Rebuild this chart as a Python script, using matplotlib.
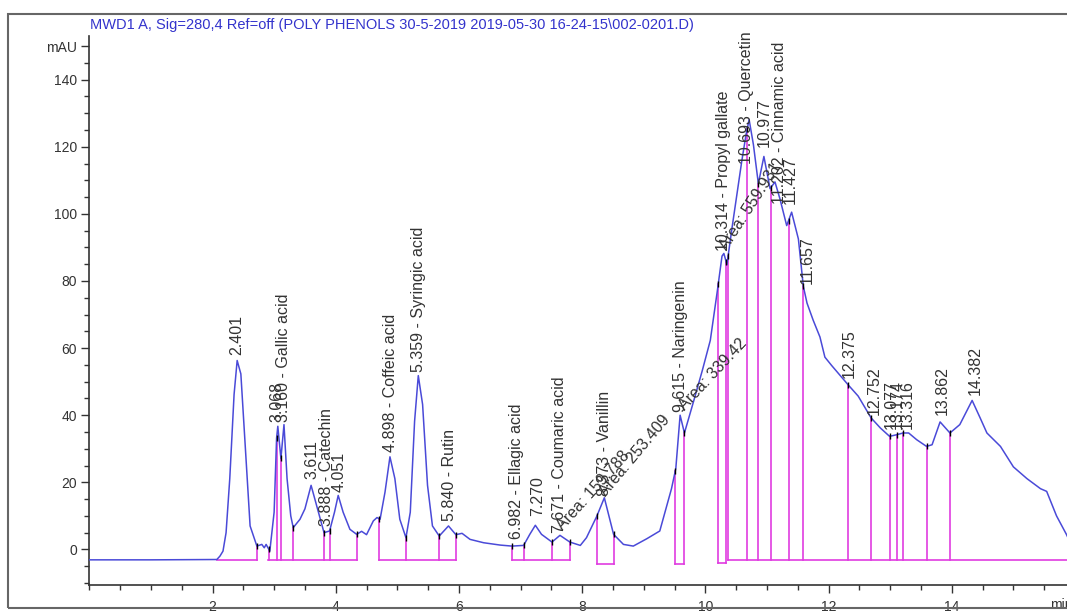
import numpy as np
import matplotlib.pyplot as plt
from matplotlib.patches import Rectangle
from matplotlib.ticker import MultipleLocator

plt.rcParams['font.family'] = ['Liberation Sans', 'DejaVu Sans']

# chromatogram trace (time in min, signal in mAU)
time_min = [0.0, 1.0, 2.07, 2.12, 2.17, 2.22, 2.28, 2.35, 2.40, 2.46, 2.53, 2.61, 2.72,
            2.80, 2.84, 2.87, 2.93, 3.00, 3.04, 3.06, 3.11, 3.16, 3.21, 3.27, 3.31, 3.42,
            3.50, 3.60, 3.69, 3.81, 3.90, 3.98, 4.04, 4.12, 4.23, 4.34, 4.42, 4.50, 4.61,
            4.67, 4.72, 4.80, 4.88, 4.96, 5.04, 5.14, 5.21, 5.28, 5.34, 5.41, 5.49, 5.57,
            5.68, 5.83, 5.95, 6.05, 6.18, 6.40, 6.67, 6.86, 7.05, 7.15, 7.24, 7.34, 7.51,
            7.64, 7.80, 7.97, 8.07, 8.24, 8.36, 8.51, 8.67, 8.83, 9.05, 9.26, 9.45, 9.52,
            9.59, 9.66, 9.81, 9.95, 10.08, 10.19, 10.27, 10.30, 10.35, 10.43, 10.51, 10.59,
            10.66, 10.71, 10.78, 10.86, 10.95, 11.05, 11.13, 11.21, 11.32, 11.40, 11.51,
            11.59, 11.65, 11.75, 11.86, 11.94, 12.05, 12.19, 12.32, 12.48, 12.69, 12.84,
            12.99, 13.11, 13.21, 13.30, 13.43, 13.59, 13.68, 13.81, 13.97, 14.13, 14.33,
            14.46, 14.57, 14.79, 15.00, 15.22, 15.44, 15.54, 15.70, 15.86, 15.95]
signal_mau = [-3.1, -3.1, -3.0, -2.0, -0.5, 5.0, 21.1, 46.2, 56.3, 52.3, 31.2, 7.0, 1.0,
              1.5, 0.5, 1.5, -0.5, 11.1, 33.2, 36.7, 27.1, 37.2, 21.1, 10.0, 6.5, 9.0,
              12.1, 19.1, 13.1, 5.0, 5.5, 11.1, 16.1, 11.1, 6.0, 4.5, 5.4, 4.4, 8.5,
              9.5, 9.0, 17.1, 27.6, 21.1, 9.0, 3.5, 11.1, 38.2, 51.8, 43.2, 19.1, 7.0,
              4.0, 7.0, 4.4, 4.8, 3.0, 2.0, 1.3, 1.0, 1.2, 4.5, 7.2, 4.5, 2.2,
              4.2, 2.2, 1.2, 3.5, 10.0, 15.4, 4.5, 1.5, 1.0, 3.2, 5.5, 18.1, 24.1,
              40.0, 34.7, 44.2, 53.3, 62.3, 76.5, 87.4, 88.2, 84.9, 95.5, 105.5, 115.6,
              123.6, 128.1, 120.6, 109.0, 117.1, 107.5, 109.5, 104.5, 96.5, 100.5, 92.5,
              78.4, 73.4, 68.3, 63.3, 57.3, 54.8, 51.8, 49.0, 45.7, 39.2, 36.2,
              33.7, 34.2, 34.7, 34.7, 32.7, 30.7, 31.2, 38.0, 34.7, 37.2, 44.4,
              39.2, 34.7, 30.7, 24.6, 21.1, 18.1, 17.3, 10.0, 4.5, 1.0]

# integration baselines (start, end, level in mAU)
base_start = [2.07, 2.90, 4.70, 6.86, 8.24, 9.51, 10.21, 10.36]
base_end = [2.72, 4.34, 5.95, 7.81, 8.51, 9.66, 10.34, 16.2]
base_level = [-3.0, -3.0, -3.0, -3.0, -4.3, -4.3, -4.0, -3.0]

# peak boundary drop lines
drop_time = [2.72, 2.91, 3.04, 3.11, 3.31, 3.81, 3.90, 4.34, 4.70, 5.14, 5.68, 5.95,
             6.86, 7.05, 7.51, 7.81, 8.24, 8.51, 9.51, 9.66, 10.21, 10.34, 10.37,
             10.68, 10.86, 11.06, 11.35, 11.59, 12.32, 12.69, 12.99, 13.11, 13.20,
             13.59, 13.97]

# peak labels
peak_label = ["2.401", "3.068", "3.160 - Gallic acid", "3.611", "3.888 - Catechin", "4.051",
              "4.898 - Coffeic acid", "5.359 - Syringic acid", "5.840 - Rutin",
              "6.982 - Ellagic acid", "7.270", "7.671 - Coumaric acid", "8.373 - Vanillin",
              "9.615 - Naringenin", "10.314 - Propyl gallate", "10.693 - Quercetin",
              "10.977", "11.202 - Cinnamic acid", "11.427", "11.657", "12.375", "12.752",
              "13.077", "13.174", "13.316", "13.862", "14.382"]
label_time = [2.40, 3.04, 3.16, 3.61, 3.85, 4.06, 4.89, 5.35, 5.84, 6.94, 7.27, 7.64, 8.37,
              9.59, 10.29, 10.67, 10.95, 11.20, 11.38, 11.65, 12.34, 12.74, 13.01, 13.12,
              13.27, 13.84, 14.38]
label_height = [58, 38, 38, 21, 7, 17, 29, 53, 8.5, 3, 10, 5, 16, 41, 89, 115, 120, 103,
                103, 79, 51, 40, 36, 36, 36, 40, 46]

area_text = ["Area: 159.788", "Area: 253.409", "Area: 339.42", "Area: 559.931"]
area_time = [7.72, 8.43, 9.70, 10.40]
area_height = [5.0, 15.1, 40.7, 88.4]
area_angle = [48, 50, 47, 57]

title = r"MWD1 A, Sig=280,4 Ref=off (POLY PHENOLS 30-5-2019 2019-05-30 16-24-15\002-0201.D)"

trace_color = "#4a4ad8"
base_color = "#e03ce0"
text_color = "#333333"

fig = plt.figure(figsize=(10.67, 6.16), dpi=100)
ax = fig.add_axes([0.0837, 0.0503, 0.9163, 0.8913])

# baselines and drop lines
for s, e, lv in zip(base_start, base_end, base_level):
    ax.plot([s, e], [lv, lv], color=base_color, lw=1.2, zorder=2)
drop_top = np.interp(drop_time, time_min, signal_mau)
for t, top in zip(drop_time, drop_top):
    lv = [l for s, e, l in zip(base_start, base_end, base_level) if s - 0.005 <= t <= e + 0.005][0]
    ax.plot([t, t], [lv, top], color=base_color, lw=1.2, zorder=2)

ax.plot(time_min, signal_mau, color=trace_color, lw=1.1, zorder=3)
ax.plot(drop_time, drop_top, ls="none", marker="|", ms=5, mew=1.0, color="black", zorder=4)

for lab, t, h in zip(peak_label, label_time, label_height):
    ax.text(t, h, lab, rotation=90, ha="center", va="bottom", fontsize=11.5,
            color=text_color, zorder=5)
for lab, t, h, a in zip(area_text, area_time, area_height, area_angle):
    ax.text(t, h, lab, rotation=a, rotation_mode="anchor", ha="left", va="bottom",
            fontsize=11.5, color=text_color, zorder=5)

ax.set_xlim(0, 15.87)
ax.set_ylim(-10.6, 153)
ax.set_xticks([2, 4, 6, 8, 10, 12, 14])
ax.xaxis.set_minor_locator(MultipleLocator(0.5))
ax.set_yticks([0, 20, 40, 60, 80, 100, 120, 140, 150])
ax.set_yticklabels(["0", "20", "40", "60", "80", "100", "120", "140", "mAU"])
ax.yaxis.set_minor_locator(MultipleLocator(5))
ax.tick_params(which="major", length=6, width=1, color="#333333", labelsize=10,
               labelcolor=text_color, pad=3)
ax.tick_params(axis="x", which="major", pad=4.5)
ax.tick_params(which="minor", length=3.5, width=1, color="#333333")
for side in ["top", "right"]:
    ax.spines[side].set_visible(False)
for side in ["left", "bottom"]:
    ax.spines[side].set_color("#333333")
    ax.spines[side].set_linewidth(1.2)

ax.text(15.6, -0.036, "min", transform=ax.get_xaxis_transform(), ha="left", va="center",
        fontsize=10, color=text_color, clip_on=False)

fig.text(0.0845, 0.959, title, color="#3333cc", fontsize=10.5, va="center")
fig.patches.append(Rectangle((0.0075, 0.013), 1.0, 0.964, transform=fig.transFigure,
                             fill=False, ec="#666666", lw=1.5))

fig.savefig("out.png", dpi=100)
